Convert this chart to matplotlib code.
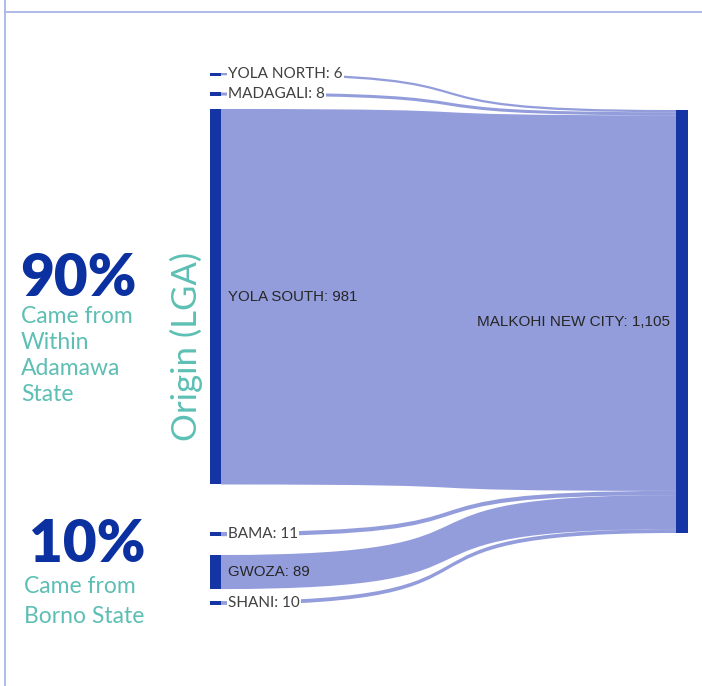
import numpy as np
import matplotlib.pyplot as plt
from matplotlib.path import Path
from matplotlib.patches import PathPatch, Rectangle

# data
origins = ["YOLA NORTH", "MADAGALI", "YOLA SOUTH", "BAMA", "GWOZA", "SHANI"]
counts = [6, 8, 981, 11, 89, 10]
destination = "MALKOHI NEW CITY"
boxed = [True, True, False, True, False, True]  # labels sitting in white text boxes

# layout (pixels)
W, H = 702, 686
px_per_unit = 423 / 1105
left_x0, left_x1 = 210, 221
right_x0, right_x1 = 676, 688
first_top = 73.0
gaps = [0, 17.2, 13.4, 47.5, 18.8, 12.0]
right_top = 110.0
curv = 0.72  # how far the bezier handles reach

node_col = "#1535a5"
link_col = (0.16, 0.24, 0.72, 0.5)
teal = "#5dbfb4"
pct_blue = "#0b30a0"

fig = plt.figure(figsize=(W / 100, H / 100), dpi=100)
ax = fig.add_axes([0, 0, 1, 1])
ax.set_xlim(0, W)
ax.set_ylim(H, 0)
ax.axis("off")

# frame lines
ax.plot([5, W], [12, 12], color="#a9b6e6", lw=1.3)
ax.plot([5, 5], [0, H], color="#a9b6e6", lw=1.3)

heights = [c * px_per_unit for c in counts]
tops = []
y = first_top
for g, h in zip(gaps, heights):
    y += g
    tops.append(y)
    y += h

# links
dx = right_x0 - left_x1
xa = left_x1 + curv * dx
xb = right_x0 - curv * dx
ry = right_top
for top, h in zip(tops, heights):
    verts = [(left_x1, top), (xa, top), (xb, ry), (right_x0, ry),
             (right_x0, ry + h), (xb, ry + h), (xa, top + h), (left_x1, top + h),
             (left_x1, top)]
    codes = [Path.MOVETO, Path.CURVE4, Path.CURVE4, Path.CURVE4,
             Path.LINETO, Path.CURVE4, Path.CURVE4, Path.CURVE4, Path.CLOSEPOLY]
    ax.add_patch(PathPatch(Path(verts, codes), facecolor=link_col, edgecolor="none"))
    ry += h

# nodes
for top, h in zip(tops, heights):
    ax.add_patch(Rectangle((left_x0, top), left_x1 - left_x0, max(h, 2.5),
                           facecolor=node_col, edgecolor="none", zorder=3))
total = sum(counts)
ax.add_patch(Rectangle((right_x0, right_top), right_x1 - right_x0, total * px_per_unit,
                       facecolor=node_col, edgecolor="none", zorder=3))

# node labels
for name, c, top, h, b in zip(origins, counts, tops, heights, boxed):
    label = f"{name}: {c:,}"
    if b:
        ax.text(228, top + h / 2, label, fontsize=11, family="Lato", color="#404040",
                va="center", ha="left", zorder=4,
                bbox=dict(facecolor="white", edgecolor="none", pad=0.8))
    else:
        ax.text(228, top + h / 2, label, fontsize=10.8, family="Liberation Sans",
                color="#262626", va="center", ha="left", zorder=4)
ax.text(670, right_top + total * px_per_unit / 2, f"{destination}: {total:,}",
        fontsize=11, family="Liberation Sans", color="#262626",
        va="center", ha="right", zorder=4)

# annotations on the left
ax.text(20, 296, "90%", fontsize=42, fontweight="heavy", family="Lato",
        color=pct_blue, va="baseline", ha="left")
for i, line in enumerate(["Came from", "Within", "Adamawa", "State"]):
    ax.text(21, 323 + i * 26, line, fontsize=16.5, family="Lato", color=teal,
            va="baseline", ha="left")

ax.text(29, 562, "10%", fontsize=42, fontweight="heavy", family="Lato",
        color=pct_blue, va="baseline", ha="left")
for i, line in enumerate(["Came from", "Borno State"]):
    ax.text(24, 593 + i * 30, line, fontsize=16.5, family="Lato", color=teal,
            va="baseline", ha="left")

ax.text(186, 346, "Origin (LGA)", fontsize=25, family="Lato", color=teal,
        rotation=90, va="center", ha="center")

fig.savefig("out.png", dpi=100)
